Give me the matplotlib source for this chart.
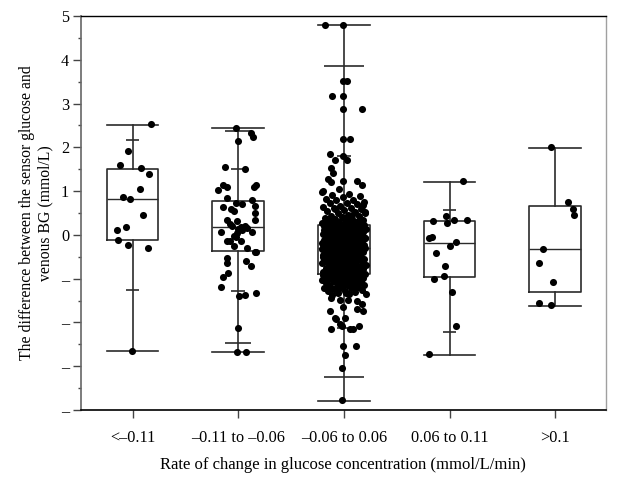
#!/usr/bin/env python3
"""Sensor vs venous BG difference by rate of glucose change (box + strip plot)."""

import numpy as np
import matplotlib
matplotlib.use("Agg")
import matplotlib.pyplot as plt

# categories on the x axis
categories = ["<\u20130.11", "\u20130.11 to \u20130.06", "\u20130.06 to 0.06",
              "0.06 to 0.11", ">0.1"]

# box statistics (mmol/L)
whislo = [-2.65, -2.68, -3.80, -2.75, -1.62]
q1 = [-0.12, -0.36, -0.90, -0.97, -1.31]
med = [0.81, 0.17, -0.30, -0.18, -0.33]
q3 = [1.50, 0.77, 0.22, 0.32, 0.65]
whishi = [2.52, 2.43, 4.80, 1.21, 1.99]

# extra percentile ticks on the whiskers (None = not drawn)
inner_hi = [2.16, 1.50, 1.80, 0.56, None]
inner_lo = [-1.26, -1.29, -2.13, -2.21, None]
outer_hi = [None, 2.38, 3.85, None, None]
outer_lo = [None, -2.47, -3.25, None, None]

# points per group: values and horizontal jitter
g1_vals = [2.54, 1.91, 1.59, 1.52, 1.38, 1.04, 0.87, 0.81, 0.46, 0.19, 0.11,
           -0.11, -0.23, -0.30, -2.65]
g1_jit = [0.17, -0.04, -0.12, 0.08, 0.16, 0.07, -0.09, -0.02, 0.10, -0.06, -0.15,
          -0.14, -0.04, 0.15, -0.01]

g2_vals = [2.45, 2.33, 2.24, 2.14, 1.54, 1.51, 1.13, 1.10, 1.15, 1.10, 1.02, 0.85,
           0.80, 0.72, 0.70, 0.64, 0.65, 0.59, 0.55, 0.49, 0.34, 0.32, 0.33, 0.24,
           0.20, 0.17, 0.13, 0.11, 0.07, 0.07, -0.02, 0.05, -0.05, 0.20, 0.15,
           -0.14, -0.15, -0.15, -0.25, -0.30, -0.38, -0.40, -0.52, -0.65, -0.59,
           -0.71, -0.88, -0.97, -1.20, -1.33, -1.39, -1.37, -2.13, -2.68, -2.68]
g2_jit = [-0.02, 0.12, 0.14, 0.00, -0.13, 0.06, -0.14, -0.11, 0.17, 0.15, -0.19,
          -0.11, 0.13, -0.02, 0.04, -0.14, 0.16, -0.07, -0.04, 0.16, -0.11, -0.01,
          0.16, -0.08, -0.06, 0.03, 0.00, 0.04, -0.16, 0.13, -0.04, -0.01, -0.02,
          0.06, 0.08, -0.11, -0.08, 0.03, -0.04, 0.08, 0.16, 0.17, -0.11, -0.11,
          0.07, 0.12, -0.10, -0.14, -0.16, 0.17, 0.01, 0.06, 0.00, -0.01, 0.07]

# group 3: the outlying points read one by one
g3_out_vals = [4.80, 4.80, 3.51, 3.51, 3.18, 3.18, 2.88, 2.88, 2.18, 2.18, 1.84,
               1.80, 1.72, 1.72, 1.53, 1.42, 1.27, 1.23, 1.23, 1.21, 1.15, 1.00,
               1.04, 0.66,
               -1.43, -1.49, -1.49, -1.52, -1.58, -1.65, -1.73, -1.70, -1.73,
               -1.90, -1.90, -1.92, -2.03, -2.16, -2.09, -2.16, -2.16, -2.07,
               -2.54, -2.54, -2.74, -3.03, -3.77]
g3_out_jit = [-0.18, -0.01, -0.01, 0.03, -0.11, -0.01, -0.01, 0.17, -0.01, 0.06,
              -0.13, -0.01, -0.08, 0.03, -0.12, -0.10, -0.15, -0.01, 0.12, -0.12,
              0.17, -0.20, -0.05, 0.17,
              -0.12, -0.04, 0.04, 0.12, 0.17, -0.01, -0.13, 0.12, 0.18,
              -0.08, 0.01, -0.07, -0.04, -0.12, -0.02, 0.06, 0.09, 0.14,
              -0.01, 0.11, 0.01, -0.02, -0.02]
# group 3: the dense core, estimated
g3_core_vals = [
    0.97, 0.93, 0.91, 0.88, 0.86, 0.83, 0.80, 0.79, 0.76, 0.73, 0.72, 0.70,
    0.67, 0.64, 0.62, 0.61, 0.58, 0.56, 0.55, 0.52, 0.50, 0.49, 0.46, 0.44,
    0.43, 0.40, 0.39, 0.37, 0.36, 0.34, 0.33, 0.31, 0.30, 0.30, 0.28, 0.27,
    0.26, 0.26, 0.25, 0.24, 0.24, 0.23, 0.23, 0.22, 0.22, 0.21,
    0.21, 0.20, 0.19, 0.19, 0.18, 0.17, 0.16, 0.16, 0.15, 0.13, 0.13, 0.12,
    0.11, 0.10, 0.09, 0.09, 0.08, 0.06, 0.06, 0.05, 0.04, 0.03, 0.02, 0.02,
    0.00, -0.01, -0.01, -0.03, -0.04, -0.05, -0.06, -0.06, -0.08, -0.09,
    -0.10, -0.11, -0.11, -0.12, -0.14, -0.14, -0.15, -0.16, -0.17, -0.18,
    -0.19, -0.19, -0.20, -0.21, -0.22, -0.22, -0.23, -0.24, -0.25, -0.25,
    -0.26, -0.26, -0.27, -0.28, -0.28, -0.29, -0.29, -0.30, -0.30, -0.31,
    -0.31, -0.32, -0.33, -0.34, -0.35, -0.35, -0.37, -0.38, -0.38, -0.40,
    -0.41, -0.42, -0.43, -0.45, -0.46, -0.46, -0.48, -0.49, -0.50, -0.52,
    -0.53, -0.54, -0.55, -0.56, -0.58, -0.59, -0.60, -0.60, -0.62, -0.63,
    -0.64, -0.65, -0.67, -0.68, -0.69, -0.70, -0.71, -0.73, -0.74, -0.75,
    -0.76, -0.77, -0.78, -0.80, -0.80, -0.81, -0.83, -0.84, -0.85, -0.85,
    -0.86, -0.87, -0.88, -0.88, -0.89, -0.90, -0.90, -0.91, -0.92, -0.93,
    -0.94, -0.96, -0.97, -0.98, -0.99, -1.00, -1.02, -1.03, -1.04, -1.05,
    -1.06, -1.08, -1.09, -1.10, -1.11, -1.13, -1.14, -1.15, -1.17, -1.18,
    -1.19, -1.21, -1.22, -1.24, -1.25, -1.27, -1.29, -1.30, -1.32, -1.34,
    -1.36, -1.38, -0.44, -0.57, -0.12, -0.02, 0.07, -0.66, -0.79, -0.33,
    -0.24, 0.14, -0.51, -0.72, -0.95, -1.07, -0.39, -0.16, 0.04, -0.47,
    0.53, 0.41, 0.35, 0.29, 0.18, 0.11, 0.03, -0.03, -0.07, -0.13, -0.18,
    -0.21, -0.27, -0.32, -0.36, -0.42, -0.45, -0.50, -0.54, -0.61, -0.63,
    -0.69, -0.74, -0.78, -0.82, -0.86, -0.92, -0.98, -1.01, -1.06, -1.12,
    -1.16, -1.20, -1.26, -0.08, -0.37, -0.56, 0.08, -0.70, 0.27, 0.45,
    0.60, 0.68, -1.33, -1.23, -0.97, -0.87, -0.65, -0.48, -0.23, 0.01,
]

g4_vals = [1.22, 0.43, 0.32, 0.28, 0.33, 0.35, -0.05, -0.07, -0.16, -0.26, -0.42,
           -0.71, -0.93, -1.01, -1.30, -2.07, -2.72]
g4_jit = [0.13, -0.03, -0.16, -0.02, 0.04, 0.17, -0.17, -0.19, 0.06, 0.00, -0.13,
          -0.04, -0.05, -0.15, 0.02, 0.06, -0.19]

g5_vals = [2.01, 0.74, 0.60, 0.46, -0.33, -0.65, -1.07, -1.55, -1.61]
g5_jit = [-0.04, 0.12, 0.17, 0.18, -0.12, -0.15, -0.02, -0.15, -0.04]


BOX_W = 0.49
INNER_W = 0.13
OUTER_W = [0.0, 0.25, 0.38, 0.0, 0.0]
LINE_C = "#2b2b2b"

plt.rcParams["font.family"] = ["Liberation Serif", "DejaVu Serif"]

fig = plt.figure(figsize=(6.17, 4.83), dpi=100)
ax = fig.add_axes([0.131, 0.151, 0.851, 0.816])

pos = np.arange(len(categories))
stats = []
for i in range(len(categories)):
    stats.append(dict(med=med[i], q1=q1[i], q3=q3[i], whislo=whislo[i],
                      whishi=whishi[i], fliers=[]))

ax.bxp(stats, positions=pos, widths=BOX_W, capwidths=BOX_W, showfliers=False,
       boxprops=dict(color=LINE_C, linewidth=1.2),
       medianprops=dict(color=LINE_C, linewidth=1.0),
       whiskerprops=dict(color=LINE_C, linewidth=1.2),
       capprops=dict(color=LINE_C, linewidth=1.2), manage_ticks=False)

# percentile ticks on whiskers
for i in range(len(categories)):
    for v in (inner_hi[i], inner_lo[i]):
        if v is not None:
            ax.hlines(v, pos[i] - INNER_W / 2, pos[i] + INNER_W / 2,
                      color=LINE_C, linewidth=1.2)
    for v in (outer_hi[i], outer_lo[i]):
        if v is not None:
            ax.hlines(v, pos[i] - OUTER_W[i] / 2, pos[i] + OUTER_W[i] / 2,
                      color=LINE_C, linewidth=1.2)

# deterministic spread for the dense core of group 3
n_core = len(g3_core_vals)
core_jit = ((np.arange(n_core) * 0.6180339887) % 1.0 - 0.5) * 0.42

groups = [
    (g1_vals, g1_jit),
    (g2_vals, g2_jit),
    (g3_out_vals + g3_core_vals, list(g3_out_jit) + list(core_jit)),
    (g4_vals, g4_jit),
    (g5_vals, g5_jit),
]
for i, (vals, jit) in enumerate(groups):
    ax.scatter(pos[i] + np.asarray(jit), vals, s=26, color="black",
               linewidths=0, zorder=3)

ax.set_xlim(-0.49, 4.48)
ax.set_ylim(-4, 5)
ax.set_xticks(pos)
ax.set_xticklabels(categories, fontsize=11.7)
ax.set_yticks(np.arange(-4, 6))
ax.set_yticklabels(["\u2013"] * 4 + [str(v) for v in range(0, 6)], fontsize=11.7)
ax.set_yticks(np.arange(-3.5, 5, 1.0), minor=True)

ax.tick_params(axis="both", which="major", direction="out", length=5.5,
               width=1.0, color="#444444")
ax.tick_params(axis="x", which="major", pad=8.5)
ax.tick_params(axis="y", which="major", pad=3)
ax.tick_params(axis="y", which="minor", direction="out", length=2.5,
               width=1.0, color="#444444")

ax.spines["left"].set_color("#666666")
ax.spines["left"].set_linewidth(1.2)
ax.spines["bottom"].set_color("black")
ax.spines["bottom"].set_linewidth(1.2)
ax.spines["top"].set_color("black")
ax.spines["top"].set_linewidth(1.0)
ax.spines["right"].set_color("#a0a0a0")
ax.spines["right"].set_linewidth(1.0)

ax.set_xlabel("Rate of change in glucose concentration (mmol/L/min)",
              fontsize=12, labelpad=8)
ax.set_ylabel("The difference between the sensor glucose and\nvenous BG (mmol/L)",
              fontsize=11.3, labelpad=5, linespacing=1.25)

fig.savefig("out.png", dpi=100)
